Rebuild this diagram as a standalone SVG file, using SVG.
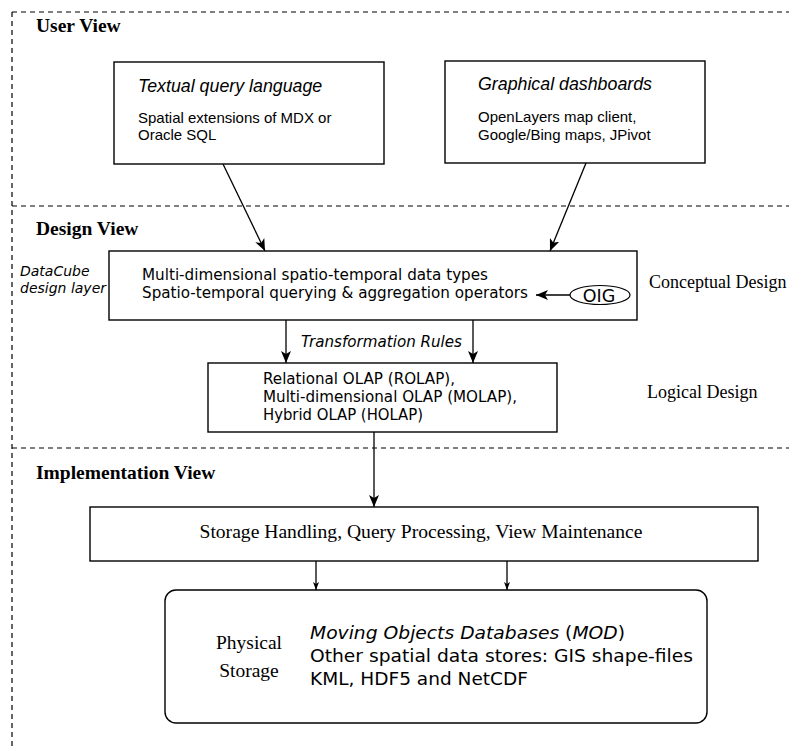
<svg xmlns="http://www.w3.org/2000/svg" width="789" height="749" viewBox="0 0 789 749">
<defs>
<style>
.dash{stroke:#000;stroke-width:1.2;stroke-dasharray:5,4;fill:none}
.box{fill:#fff;stroke:#000;stroke-width:1.4}
.conn{stroke:#000;stroke-width:1.3;fill:none}
.view{font-family:"Liberation Serif",serif;font-weight:bold;font-size:19.5px;fill:#000}
.serif{font-family:"Liberation Serif",serif;fill:#000}
.arial{font-family:"Liberation Sans",Arial,sans-serif;fill:#000}
.dv{font-family:"DejaVu Sans",sans-serif;fill:#000}
</style>
<marker id="big" viewBox="0 0 12 10" refX="12" refY="5" markerWidth="12" markerHeight="10" markerUnits="userSpaceOnUse" orient="auto">
<path d="M0,0 L12,5 L0,10 L3,5 z" fill="#000"/>
</marker>
<marker id="small" viewBox="0 0 8 6" refX="8" refY="3" markerWidth="8" markerHeight="6" markerUnits="userSpaceOnUse" orient="auto">
<path d="M0,0 L8,3 L0,6 L2,3 z" fill="#000"/>
</marker>
</defs>

<g id="frame">
<line class="dash" x1="12" y1="12" x2="789" y2="12"/>
<line class="dash" x1="12" y1="12" x2="12" y2="749"/>
<line class="dash" x1="12" y1="206" x2="789" y2="206"/>
<line class="dash" x1="12" y1="448" x2="789" y2="448"/>
<text class="view" x="36" y="32">User View</text>
<text class="view" x="36" y="235">Design View</text>
<text class="view" x="36" y="479">Implementation View</text>
</g>

<g id="textual">
<rect class="box" x="114" y="62" width="270" height="102"/>
<text class="arial" x="138" y="92" font-size="17.8" font-style="italic">Textual query language</text>
<text class="arial" x="138" y="123" font-size="15">Spatial extensions of MDX or</text>
<text class="arial" x="138" y="140" font-size="15">Oracle SQL</text>
</g>

<g id="graphical">
<rect class="box" x="445" y="61" width="260" height="102"/>
<text class="arial" x="478" y="90" font-size="17.8" font-style="italic">Graphical dashboards</text>
<text class="arial" x="478" y="122" font-size="15">OpenLayers map client,</text>
<text class="arial" x="478" y="140" font-size="15">Google/Bing maps, JPivot</text>
</g>

<g id="datacube">
<text class="dv" x="20" y="276" font-size="14" font-style="italic">DataCube</text>
<text class="dv" x="20" y="293" font-size="14" font-style="italic">design layer</text>
<rect class="box" x="109" y="251" width="528" height="69"/>
<text class="dv" x="142" y="280" font-size="15.2" textLength="346" lengthAdjust="spacingAndGlyphs">Multi-dimensional spatio-temporal data types</text>
<text class="dv" x="142" y="298" font-size="15.2" textLength="386" lengthAdjust="spacingAndGlyphs">Spatio-temporal querying &amp; aggregation operators</text>
<text class="serif" x="649" y="288" font-size="18">Conceptual Design</text>
</g>

<g id="oig">
<ellipse cx="600" cy="295" rx="30" ry="9.5" fill="#fff" stroke="#000" stroke-width="1.2"/>
<text class="dv" x="599" y="301.5" font-size="17.5" text-anchor="middle">OIG</text>
</g>

<g id="logical">
<rect class="box" x="208" y="363" width="349" height="69"/>
<text class="dv" x="263" y="384" font-size="15" textLength="192" lengthAdjust="spacingAndGlyphs">Relational OLAP (ROLAP),</text>
<text class="dv" x="263" y="402" font-size="15" textLength="254" lengthAdjust="spacingAndGlyphs">Multi-dimensional OLAP (MOLAP),</text>
<text class="dv" x="263" y="420" font-size="15" textLength="160" lengthAdjust="spacingAndGlyphs">Hybrid OLAP (HOLAP)</text>
<text class="serif" x="647" y="398" font-size="18">Logical Design</text>
</g>

<g id="storage">
<rect class="box" x="90" y="507" width="668" height="54"/>
<text class="serif" x="421" y="538" font-size="19.6" text-anchor="middle">Storage Handling, Query Processing, View Maintenance</text>
</g>

<g id="physical">
<rect class="box" x="165" y="590" width="542" height="133" rx="11" ry="11"/>
<text class="serif" x="249" y="649" font-size="19.5" text-anchor="middle">Physical</text>
<text class="serif" x="249" y="677" font-size="19.5" text-anchor="middle">Storage</text>
<text class="dv" x="310" y="639" font-size="18" textLength="315" lengthAdjust="spacingAndGlyphs"><tspan font-style="italic">Moving Objects Databases</tspan> (<tspan font-style="italic">MOD</tspan>)</text>
<text class="dv" x="310" y="662" font-size="18" textLength="383" lengthAdjust="spacingAndGlyphs">Other spatial data stores: GIS shape-files</text>
<text class="dv" x="310" y="685" font-size="18" textLength="218" lengthAdjust="spacingAndGlyphs">KML, HDF5 and NetCDF</text>
</g>

<g id="connectors">
<line class="conn" x1="223" y1="164" x2="265" y2="251" marker-end="url(#big)"/>
<line class="conn" x1="586" y1="163" x2="550" y2="251" marker-end="url(#big)"/>
<line class="conn" x1="570" y1="295" x2="536" y2="295" marker-end="url(#big)"/>
<line class="conn" x1="286" y1="320" x2="286" y2="363" marker-end="url(#big)"/>
<line class="conn" x1="473" y1="320" x2="473" y2="363" marker-end="url(#big)"/>
<line class="conn" x1="374" y1="432" x2="374" y2="507" marker-end="url(#big)"/>
<line class="conn" x1="316" y1="561" x2="316" y2="590" stroke-width="1" marker-end="url(#small)"/>
<line class="conn" x1="507" y1="561" x2="507" y2="590" stroke-width="1" marker-end="url(#small)"/>
<text class="dv" x="301" y="347" font-size="15" font-style="italic" textLength="161" lengthAdjust="spacingAndGlyphs">Transformation Rules</text>
</g>
</svg>
